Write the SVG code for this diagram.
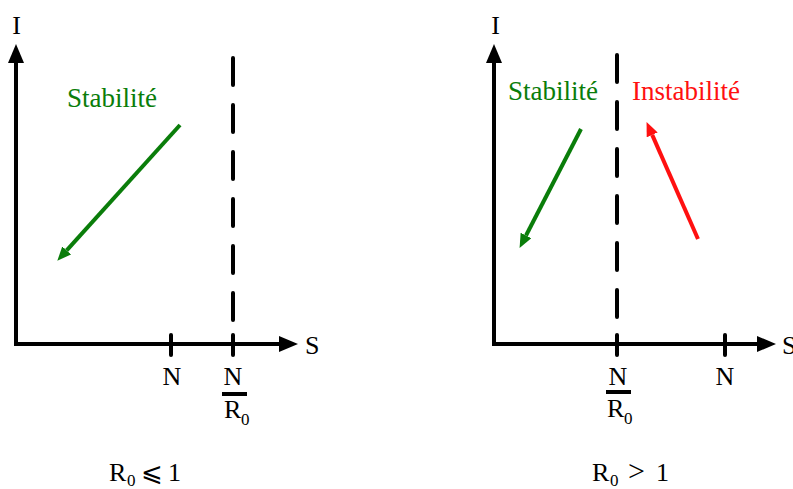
<svg xmlns="http://www.w3.org/2000/svg" width="793" height="489" viewBox="0 0 793 489">
<style>
.ax{stroke:#000;stroke-width:4;fill:none}
.dash{stroke:#000;stroke-width:4;fill:none;stroke-dasharray:27 20;stroke-linecap:round}
.tick{stroke:#000;stroke-width:4;stroke-linecap:round}
.g{stroke:#0a7d0a;stroke-width:4;fill:none}
.r{stroke:#ff1010;stroke-width:4;fill:none}
text{font-family:"Liberation Serif","DejaVu Serif",serif;fill:#000}
.lbl{font-size:26px}
.sub{font-size:17px}
.gt{font-size:27px;fill:#0a7d0a}
.rt{font-size:27px;fill:#ff1010}
</style>
<defs>
<marker id="ah" markerUnits="userSpaceOnUse" markerWidth="20" markerHeight="18" refX="0" refY="8" orient="auto">
<path d="M0,0 L19,8 L0,16 z" fill="#000"/>
</marker>
<marker id="ahg" markerUnits="userSpaceOnUse" markerWidth="15" markerHeight="14" refX="0" refY="6" orient="auto">
<path d="M0,0 L14,6 L0,12 z" fill="#0a7d0a"/>
</marker>
<marker id="ahr" markerUnits="userSpaceOnUse" markerWidth="15" markerHeight="14" refX="0" refY="6" orient="auto">
<path d="M0,0 L14,6 L0,12 z" fill="#ff1010"/>
</marker>
</defs>

<g id="connectors">
<line class="ax" x1="16" y1="346" x2="16" y2="63" marker-end="url(#ah)"/>
<line class="ax" x1="14" y1="344" x2="279" y2="344" marker-end="url(#ah)"/>
<line class="dash" x1="233" y1="58" x2="233" y2="344"/>
<line class="tick" x1="171" y1="335" x2="171" y2="355"/>
<line class="tick" x1="233" y1="335" x2="233" y2="355"/>
<line class="g" x1="180" y1="125" x2="66.7" y2="250.4" marker-end="url(#ahg)"/>
<line class="ax" x1="494" y1="346" x2="494" y2="63" marker-end="url(#ah)"/>
<line class="ax" x1="492" y1="344" x2="757" y2="344" marker-end="url(#ah)"/>
<line class="dash" x1="617" y1="55" x2="617" y2="344"/>
<line class="tick" x1="617" y1="335" x2="617" y2="355"/>
<line class="tick" x1="725" y1="335" x2="725" y2="355"/>
<line class="g" x1="581" y1="129" x2="526" y2="235.5" marker-end="url(#ahg)"/>
<line class="r" x1="698" y1="239" x2="652.2" y2="134.9" marker-end="url(#ahr)"/>
</g>

<g id="left-labels">
<text class="lbl" x="16.5" y="34" text-anchor="middle">I</text>
<text class="lbl" x="305" y="354">S</text>
<text class="lbl" x="172" y="385" text-anchor="middle">N</text>
<text class="gt" x="67" y="107">Stabilité</text>
</g>
<g id="left-fraction">
<text class="lbl" x="233" y="385" text-anchor="middle">N</text>
<line x1="222" y1="394" x2="247" y2="394" stroke="#000" stroke-width="4"/>
<text class="lbl" x="224" y="418">R</text>
<text class="sub" x="241" y="425">0</text>
</g>
<g id="left-condition">
<text class="lbl" x="109" y="481">R</text>
<text class="sub" x="127" y="486">0</text>
<text class="lbl" x="141" y="481">⩽</text>
<text class="lbl" x="168" y="481">1</text>
</g>

<g id="right-labels">
<text class="lbl" x="495.5" y="34" text-anchor="middle">I</text>
<text class="lbl" x="782" y="354">S</text>
<text class="lbl" x="725" y="385" text-anchor="middle">N</text>
<text class="gt" x="508" y="100">Stabilité</text>
<text class="rt" x="632" y="100">Instabilité</text>
</g>
<g id="right-fraction">
<text class="lbl" x="618" y="385" text-anchor="middle">N</text>
<line x1="606" y1="392" x2="631" y2="392" stroke="#000" stroke-width="4"/>
<text class="lbl" x="607" y="417">R</text>
<text class="sub" x="624" y="424">0</text>
</g>
<g id="right-condition">
<text class="lbl" x="592" y="481">R</text>
<text class="sub" x="610" y="486">0</text>
<text class="lbl" x="628" y="481" style="font-size:30px">&gt;</text>
<text class="lbl" x="656" y="481">1</text>
</g>
</svg>
